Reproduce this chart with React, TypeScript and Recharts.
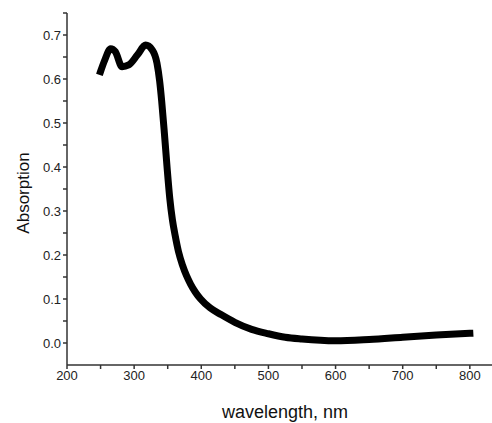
import React from "react";
import { LineChart, Line, XAxis, YAxis, Label } from "recharts";

// wavelength (nm) and absorption
const wavelengths = [
  250, 256, 265, 272, 282, 292, 305, 317, 327, 334, 338, 341, 345, 349, 353,
  357, 361, 366, 372, 378, 384, 391, 399, 413, 430, 450, 475, 500, 525, 550,
  600, 650, 700, 750, 800,
];
const absorption = [
  0.617, 0.642, 0.669, 0.662, 0.628, 0.632, 0.655, 0.677, 0.666, 0.636, 0.595,
  0.55, 0.478, 0.4, 0.33, 0.28, 0.245, 0.208, 0.177, 0.153, 0.134, 0.116,
  0.1, 0.08, 0.064, 0.047, 0.031, 0.021, 0.013, 0.009, 0.005, 0.008, 0.013,
  0.018, 0.022,
];

const xTicks = [200, 250, 300, 350, 400, 450, 500, 550, 600, 650, 700, 750, 800];
const yTicks = [0, 0.05, 0.1, 0.15, 0.2, 0.25, 0.3, 0.35, 0.4, 0.45, 0.5, 0.55, 0.6, 0.65, 0.7, 0.75];

const data = wavelengths.map((w, i) => ({ w, a: absorption[i] }));

const axisColor = "#333";
const tickStyle = { fontSize: 13, fill: "#222", fontFamily: "Liberation Sans, Arial, sans-serif" };
const titleFont = "Liberation Sans, Arial, sans-serif";

export default function App() {
  return (
    <div style={{ position: "absolute", left: 0, top: 0, width: 492, height: 423, background: "#fff" }}>
      <LineChart width={492} height={423} data={data} margin={{ top: 13, right: 0, bottom: 0, left: 0 }}>
        <XAxis
          dataKey="w"
          type="number"
          domain={[200, 833]}
          ticks={xTicks}
          tickFormatter={(v: number) => (v % 100 === 0 ? String(v) : "")}
          height={58}
          tick={tickStyle}
          tickSize={4}
          tickLine={{ stroke: axisColor, strokeWidth: 1.5 }}
          axisLine={{ stroke: axisColor, strokeWidth: 1.5 }}
          allowDataOverflow
        >
          <Label
            content={() => (
              <text x={285} y={418} textAnchor="middle" fontSize={18} fontFamily={titleFont} fill="#111">
                wavelength, nm
              </text>
            )}
          />
        </XAxis>
        <YAxis
          type="number"
          domain={[-0.05, 0.75]}
          ticks={yTicks}
          tickFormatter={(v: number) => (Math.round(v * 100) % 10 === 0 ? v.toFixed(1) : "")}
          width={67}
          tick={tickStyle}
          tickSize={4}
          tickLine={{ stroke: axisColor, strokeWidth: 1.5 }}
          axisLine={{ stroke: axisColor, strokeWidth: 1.5 }}
          allowDataOverflow
        >
          <Label
            content={() => (
              <text
                x={23}
                y={193}
                textAnchor="middle"
                dominantBaseline="central"
                transform="rotate(-90, 23, 193)"
                fontSize={17}
                fontFamily={titleFont}
                fill="#111"
              >
                Absorption
              </text>
            )}
          />
        </YAxis>
        <Line
          dataKey="a"
          type="monotone"
          stroke="#000"
          strokeWidth={7}
          strokeLinecap="square"
          strokeLinejoin="round"
          dot={false}
          isAnimationActive={false}
        />
      </LineChart>
    </div>
  );
}
